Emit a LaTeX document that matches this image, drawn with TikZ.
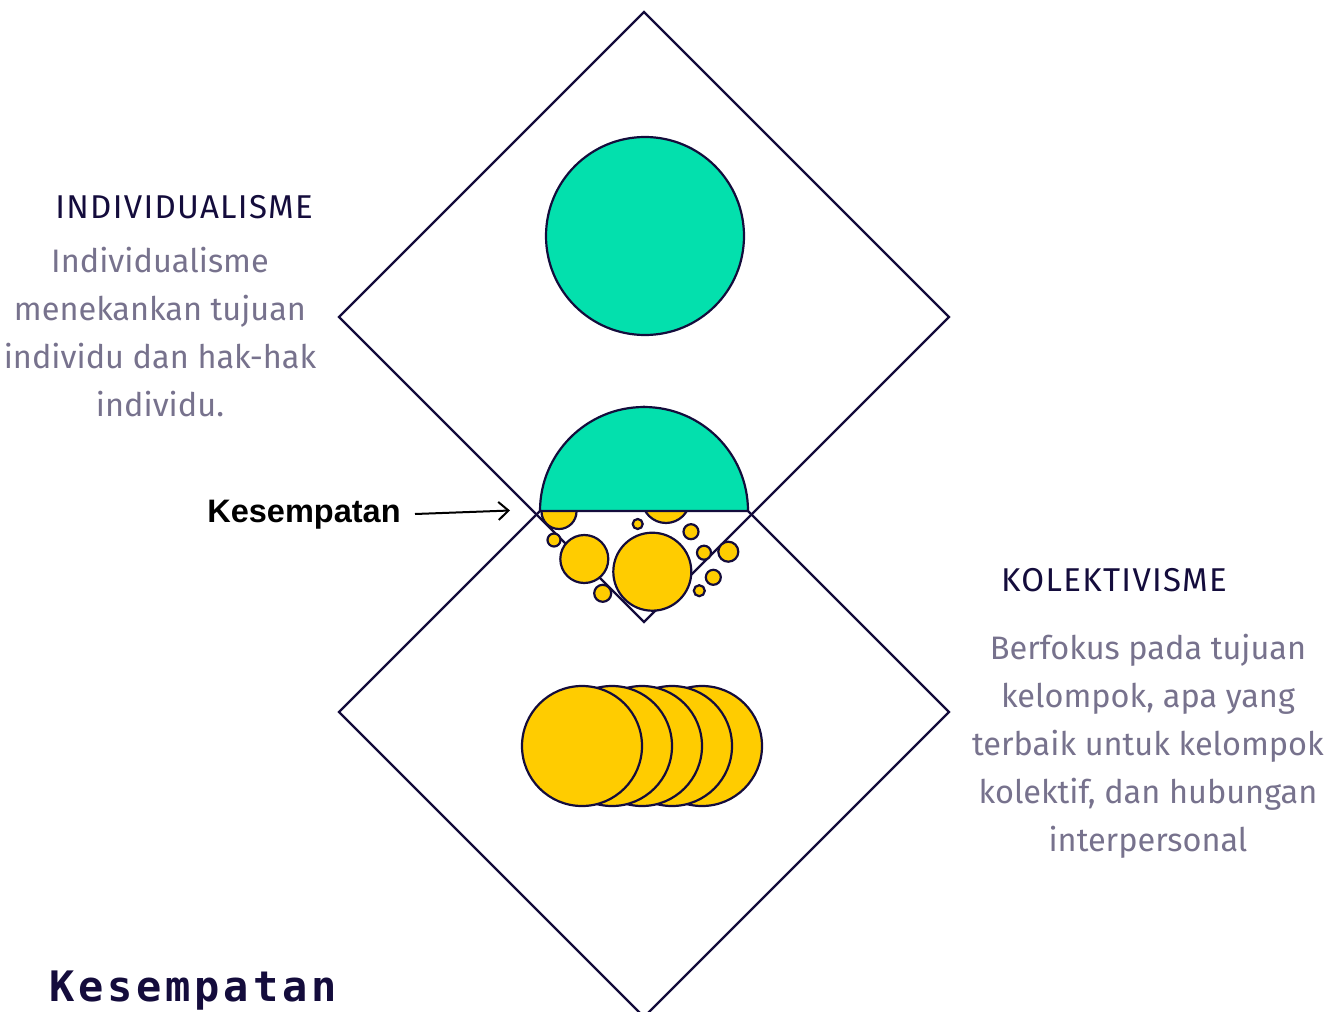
\documentclass[tikz,border=0pt]{standalone}
\usepackage{fontspec}
\setmainfont{Fira Sans}
\newfontfamily\headfont[LetterSpace=4]{Fira Sans}
\newfontfamily\labelfont{Liberation Sans}
\newfontfamily\titlefont[LetterSpace=9]{DejaVu Sans Mono}
\usetikzlibrary{arrows.meta}
\definecolor{ink}{HTML}{140C3C}
\definecolor{mint}{HTML}{03E0AD}
\definecolor{gold}{HTML}{FFCC00}
\definecolor{greytext}{HTML}{77728D}
\tikzset{
  outline/.style={draw=ink, line width=2.2pt, line join=miter},
  mintdisc/.style={outline, fill=mint},
  golddisc/.style={outline, fill=gold},
  heading/.style={text=ink, font=\headfont\fontsize{33}{38}\selectfont, inner sep=0pt},
  body/.style={text=greytext, font=\fontsize{32.5}{48}\selectfont, align=center, inner sep=0pt},
}
\begin{document}
\begin{tikzpicture}[x=1pt,y=-1pt]
\useasboundingbox (0,0) rectangle (1344,1012);
\clip (0,0) rectangle (1344,1012);
% diamonds
\draw[outline] (644,12) -- (949,317) -- (644,622) -- (339,317) -- cycle;
\draw[outline] (644,407) -- (949,712) -- (644,1017) -- (339,712) -- cycle;
% top disc
\draw[mintdisc] (645,236) circle[radius=99];
% bubbles in overlap
\draw[golddisc] (559,511.5) circle[radius=17.5];
\draw[golddisc] (666,499) circle[radius=24];
\draw[golddisc] (637.7,524) circle[radius=5];
\draw[golddisc] (554,540) circle[radius=6.5];
\draw[golddisc] (584.3,559) circle[radius=24];
\draw[golddisc] (652.3,571.7) circle[radius=39];
\draw[golddisc] (602.7,593.3) circle[radius=8.5];
\draw[golddisc] (691,531.7) circle[radius=7.5];
\draw[golddisc] (704,552.7) circle[radius=7];
\draw[golddisc] (728.3,551.7) circle[radius=10];
\draw[golddisc] (713.3,577.3) circle[radius=7.5];
\draw[golddisc] (699.3,590.7) circle[radius=5.5];
% half disc
\draw[mintdisc] (540,511) arc[start angle=180, end angle=360, radius=104] -- cycle;
% stacked discs
\foreach \cx in {702,672,642,612,582}{
  \draw[golddisc] (\cx,746) circle[radius=60];
}
% texts
\node[heading] (indh) at (184,207) {INDIVIDUALISME};
\node[body] (indb) at (160,332) {Individualisme\\menekankan tujuan\\individu dan hak-hak\\individu.};
\node[heading] (kolh) at (1114,580) {KOLEKTIVISME};
\node[body] (kolb) at (1148,746) {Berfokus pada tujuan\\kelompok, apa yang\\terbaik untuk kelompok\\kolektif, dan hubungan\\interpersonal};
\node[inner sep=0pt, font=\labelfont\bfseries\fontsize{32.5}{38}\selectfont, text=black] (kes) at (304,515) {Kesempatan};
\coordinate (meet) at (510,510.5);
\coordinate (tail) at (415,514);
\draw[-{Straight Barb[length=10pt,width=18pt,line width=2pt]}, line width=2pt, black] (tail) -- (meet);
\node[inner sep=0pt, font=\titlefont\bfseries\fontsize{42}{48}\selectfont, text=ink] (title) at (193,991) {Kesempatan};
\end{tikzpicture}
\end{document}
